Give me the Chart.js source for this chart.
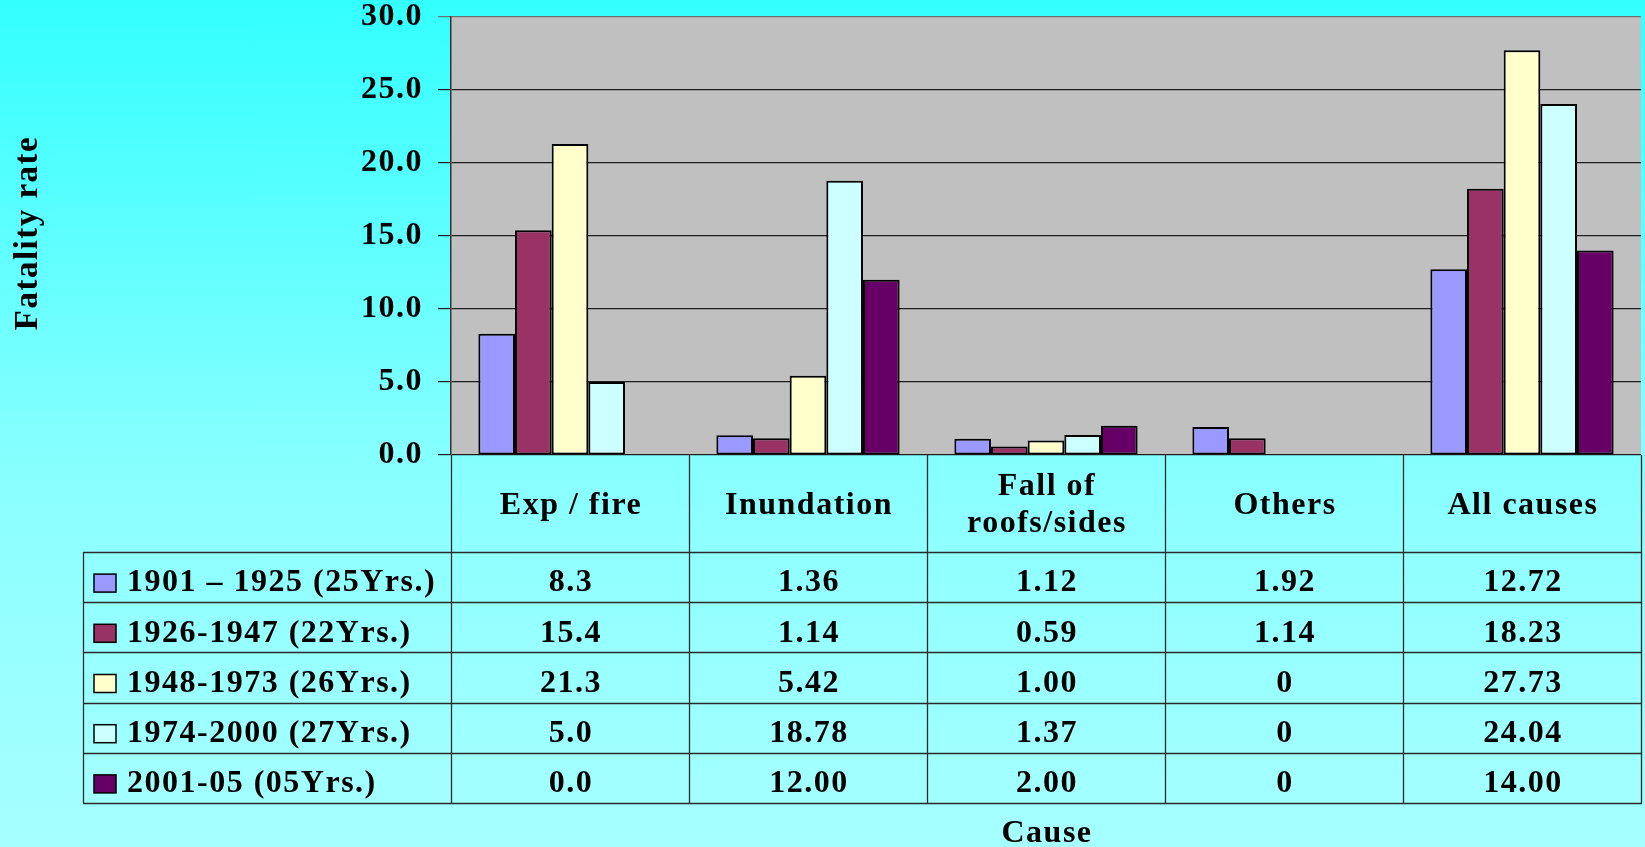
<!DOCTYPE html>
<html>
<head>
<meta charset="utf-8">
<script src="https://cdn.jsdelivr.net/npm/chart.js@4.4.0/dist/chart.umd.min.js"></script>
<style>
  html, body { margin: 0; padding: 0; }
  body {
    width: 1645px; height: 847px; overflow: hidden;
    background: linear-gradient(to bottom, #33ffff 0%, #85ffff 53%, #90ffff 65%, #a6ffff 100%);
  }
  #c { display: block; }
</style>
</head>
<body>
<canvas id="c" width="1645" height="847" style="width:1645px;height:847px"></canvas>
<script>
(function () {
  'use strict';

  // categories (header row of the data table)
  const causes = ['Exp / fire', 'Inundation', ['Fall of', 'roofs/sides'], 'Others', 'All causes'];

  // series (legend rows of the data table)
  const periods = ['1901 \u2013 1925 (25Yrs.)', '1926-1947 (22Yrs.)', '1948-1973 (26Yrs.)', '1974-2000 (27Yrs.)', '2001-05 (05Yrs.)'];
  const r1901 = [8.3, 1.36, 1.12, 1.92, 12.72];
  const r1926 = [15.4, 1.14, 0.59, 1.14, 18.23];
  const r1948 = [21.3, 5.42, 1.00, 0, 27.73];
  const r1974 = [5.0, 18.78, 1.37, 0, 24.04];
  const r2001 = [0.0, 12.00, 2.00, 0, 14.00];
  const colors = ['#9999ff', '#993366', '#ffffcc', '#ccffff', '#660066'];

  // y ticks
  const yMin = 0, yMax = 30, yStep = 5;

  const FONT = "'Liberation Serif', 'Times New Roman', serif";
  const FSIZE = 32;
  const SPACING = '1.5px';

  const series = [r1901, r1926, r1948, r1974, r2001];

  // how the table shows each column's numbers
  function fmt(v, col) {
    if (col === 0) return v.toFixed(1);
    if (col === 3 && v === 0) return '0';
    return v.toFixed(2);
  }

  const tablePlugin = {
    id: 'dataTable',
    beforeDraw(chart) {
      const { ctx, chartArea: a } = chart;
      ctx.letterSpacing = SPACING;
      ctx.save();
      ctx.fillStyle = '#c0c0c0';
      ctx.fillRect(a.left, a.top, a.right - a.left, a.bottom - a.top);
      ctx.restore();
    },
    afterDraw(chart) {
      const { ctx, chartArea: a } = chart;
      const n = causes.length;
      const colW = (a.right - a.left) / n;
      const top = a.bottom;
      const headBottom = top + 97;
      const rowH = 50.2;
      const tableLeft = 83;
      const tableBottom = headBottom + rowH * periods.length;

      ctx.save();
      ctx.letterSpacing = SPACING;
      ctx.strokeStyle = '#2a2a2a';
      ctx.lineWidth = 1.3;

      // vertical lines
      for (let i = 0; i <= n; i++) {
        const x = Math.round(a.left + i * colW) + 0.5;
        ctx.beginPath();
        ctx.moveTo(x, top);
        ctx.lineTo(x, tableBottom);
        ctx.stroke();
      }
      ctx.beginPath();
      ctx.moveTo(tableLeft + 0.5, headBottom);
      ctx.lineTo(tableLeft + 0.5, tableBottom);
      ctx.stroke();

      // horizontal lines
      for (let r = 0; r <= periods.length; r++) {
        const y = Math.round(headBottom + r * rowH) + 0.5;
        ctx.beginPath();
        ctx.moveTo(tableLeft, y);
        ctx.lineTo(a.right + 1, y);
        ctx.stroke();
      }

      ctx.fillStyle = '#000';
      ctx.font = `bold ${FSIZE}px ${FONT}`;
      ctx.textBaseline = 'middle';

      // header row
      ctx.textAlign = 'center';
      causes.forEach((c, i) => {
        const cx = chart.scales.x.getPixelForValue(i);
        const lines = Array.isArray(c) ? c : [c];
        const midY = (top + headBottom) / 2 + 2;
        lines.forEach((t, k) => {
          const y = midY + (k - (lines.length - 1) / 2) * 37;
          ctx.fillText(t, cx + 1, y);
        });
      });

      // data rows
      periods.forEach((p, r) => {
        const cy = headBottom + r * rowH + rowH / 2 + 6;
        ctx.save();
        ctx.fillStyle = colors[r];
        ctx.fillRect(94, cy - 9, 22, 18);
        ctx.strokeStyle = '#000';
        ctx.lineWidth = 1.5;
        ctx.strokeRect(94, cy - 9, 22, 18);
        ctx.restore();

        ctx.textAlign = 'left';
        ctx.fillText(p, 127, cy);

        ctx.textAlign = 'center';
        series[r].forEach((v, i) => {
          ctx.fillText(fmt(v, i), chart.scales.x.getPixelForValue(i) + 1, cy);
        });
      });

      // axis titles
      ctx.textAlign = 'center';
      ctx.fillText('Cause', (a.left + a.right) / 2 + 1, 834);

      ctx.save();
      ctx.font = `bold 33px ${FONT}`;
      ctx.translate(28, 233);
      ctx.rotate(-Math.PI / 2);
      ctx.fillText('Fatality rate', 0, 0);
      ctx.restore();

      ctx.restore();
    }
  };

  function init() {
    const ctx = document.getElementById('c');
    new Chart(ctx, {
      type: 'bar',
      data: {
        labels: causes,
        datasets: series.map((d, i) => ({
          label: periods[i],
          data: d,
          backgroundColor: colors[i],
          borderColor: '#000',
          borderWidth: (c) => (c.raw === 0 ? 0 : 2),
          borderSkipped: false,
          categoryPercentage: 0.77,
          barPercentage: 1.0
        }))
      },
      options: {
        responsive: false,
        animation: false,
        devicePixelRatio: 1,
        layout: { padding: { left: 0, top: 17, right: 4, bottom: 392 } },
        plugins: {
          legend: { display: false },
          tooltip: { enabled: false }
        },
        scales: {
          x: { display: false },
          y: {
            min: yMin,
            max: yMax,
            afterFit: (scale) => {
              scale.width = 451;
              scale.paddingTop = 0;
              scale.paddingBottom = 0;
            },
            ticks: {
              stepSize: yStep,
              color: '#000',
              padding: 15,
              font: { family: FONT, size: FSIZE, weight: 'bold' },
              callback: (v) => Number(v).toFixed(1)
            },
            grid: {
              color: (c) => (c.tick && c.tick.value === yMax ? '#707070' : '#1e1e1e'),
              lineWidth: 1.2,
              tickLength: 13,
              drawTicks: true
            },
            border: { color: '#333', width: 1.5 }
          }
        }
      },
      plugins: [tablePlugin]
    });
  }

  if (document.readyState === 'loading') document.addEventListener('DOMContentLoaded', init); else init();
})();
</script>
</body>
</html>
